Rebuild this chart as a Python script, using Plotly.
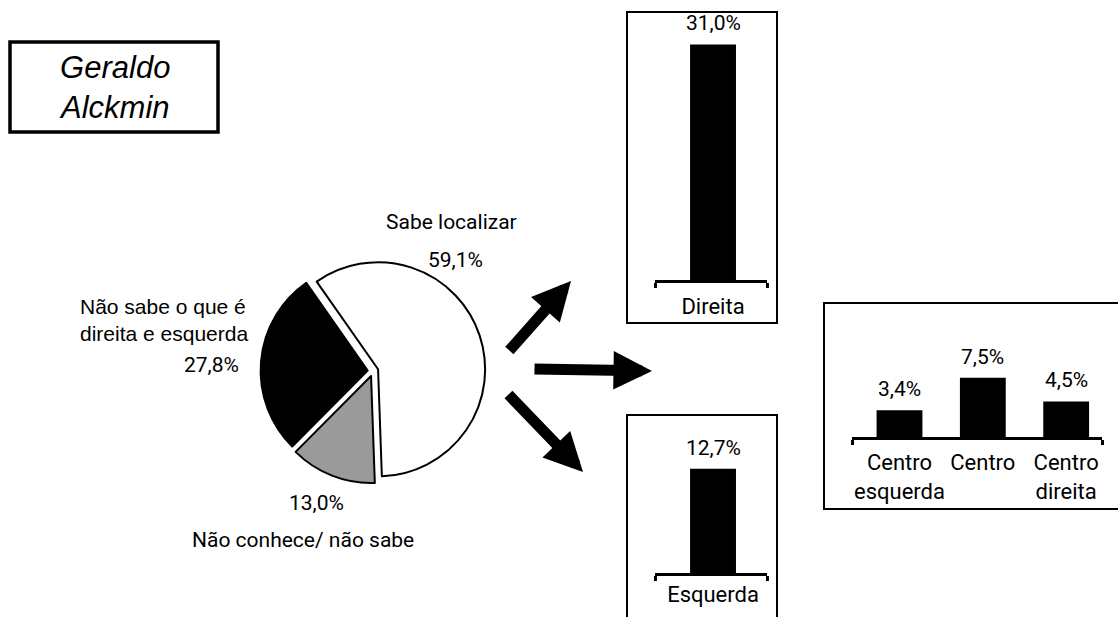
import plotly.graph_objects as go

W, H = 1118, 617

# ---- data ----
pie_labels = ["Sabe localizar", "Não conhece/ não sabe", "Não sabe o que é<br>direita e esquerda"]
pie_values = [59.1, 13.0, 27.8]

dir_cats = ["Direita"]
dir_vals = [31.0]
esq_cats = ["Esquerda"]
esq_vals = [12.7]
cen_cats = ["Centro<br>esquerda", "Centro", "Centro<br>direita"]
cen_vals = [3.4, 7.5, 4.5]

title_text = "Geraldo<br>Alckmin"


def px(x):
    return x / W


def py(y):
    return 1 - y / H


def pct(v):
    return f"{v:.1f}".replace(".", ",") + "%"


TXT = dict(family="Roboto", size=21, color="black")
ARIAL = dict(family="Liberation Sans", size=21, color="black")

fig = go.Figure()

# ---- pie ----
fig.add_trace(go.Pie(
    labels=pie_labels, values=pie_values, sort=False, direction="clockwise",
    rotation=-35, pull=[0.05, 0.05, 0.05],
    marker=dict(colors=["white", "#9a9a9a", "black"], line=dict(color="black", width=2)),
    textinfo="none", hoverinfo="label+percent", showlegend=False,
    domain=dict(x=[px(260.6), px(485.4)], y=[py(483.4), py(258.6)]),
))

# ---- bars ----
groups = [
    (dir_cats, dir_vals, "x", "y", [655, 767], [14, 280], [-0.518, 0.482], [0, 35], 0.41, 5),
    (esq_cats, esq_vals, "x2", "y2", [655, 767], [450, 573], [-0.518, 0.482], [0, 15], 0.41, 0),
    (cen_cats, cen_vals, "x3", "y3", [852, 1102], [366, 437], [-0.57, 2.43], [0, 9], 0.55, 4),
]

layout_axes = {}
annotations = []
for i, (cats, vals, xa, ya, xdom, ydom, xr, yr, bw, stand) in enumerate(groups):
    idx = list(range(len(cats)))
    fig.add_trace(go.Bar(x=idx, y=vals, xaxis=xa, yaxis=ya, width=bw,
                         marker=dict(color="black", line=dict(width=0)),
                         showlegend=False, hoverinfo="y"))
    xkey = "xaxis" if i == 0 else f"xaxis{i+1}"
    ykey = "yaxis" if i == 0 else f"yaxis{i+1}"
    layout_axes[xkey] = dict(
        domain=[px(xdom[0]), px(xdom[1])], range=xr, anchor=ya,
        showline=True, linecolor="black", linewidth=3, showgrid=False, zeroline=False,
        tickmode="array", tickvals=idx, ticktext=cats, ticks="",
        ticklabelstandoff=stand,
        tickfont=dict(family="Roboto", size=22, color="black"),
        minor=dict(tickmode="array", tickvals=xr, ticks="outside", ticklen=5,
                   tickwidth=3, tickcolor="black", showgrid=False),
        fixedrange=True,
    )
    layout_axes[ykey] = dict(
        domain=[py(ydom[1]), py(ydom[0])], range=yr, anchor=xa, visible=False,
        fixedrange=True,
    )
    for j, v in zip(idx, vals):
        annotations.append(dict(
            x=j, y=v, xref=xa, yref=ya, text=pct(v), showarrow=False,
            xanchor="center", yanchor="bottom", yshift=7, font=TXT,
        ))


def lab(x, y, text, font=TXT, xanchor="center", align="center"):
    return dict(x=px(x), y=py(y), xref="paper", yref="paper", text=text,
                showarrow=False, font=font, xanchor=xanchor, yanchor="middle",
                align=align)


# ---- pie labels ----
annotations += [
    lab(451, 222, pie_labels[0]),
    lab(455, 260, pct(pie_values[0])),
    lab(78, 320, pie_labels[2], font=ARIAL, xanchor="left", align="left"),
    lab(241, 365, pct(pie_values[2]), xanchor="right"),
    lab(316, 503, pct(pie_values[1])),
    lab(303, 540, pie_labels[1]),
    lab(114, 87, title_text, font=dict(family="Liberation Sans", size=31,
                                       color="black", style="italic")),
]

# ---- arrows ----
arrows = [((508, 352), (571, 281)), ((533, 369), (652, 371)), ((507, 393), (583, 472))]
for (tx, ty), (hx, hy) in arrows:
    annotations.append(dict(
        x=px(hx), y=py(hy), xref="paper", yref="paper", ax=tx - hx, ay=ty - hy,
        text="", showarrow=True, arrowhead=2, arrowsize=0.7, arrowwidth=11,
        arrowcolor="black", standoff=0, startstandoff=0,
    ))

# ---- boxes ----
shapes = []
for (x0, y0, x1, y1, lw) in [(10, 42, 218, 132, 3.5), (627, 12, 777, 323, 2),
                             (627, 415, 777, 640, 2), (824, 303, 1125, 509, 2)]:
    shapes.append(dict(type="rect", xref="paper", yref="paper",
                       x0=px(x0), x1=px(x1), y0=py(y1), y1=py(y0),
                       line=dict(color="black", width=lw), fillcolor="rgba(0,0,0,0)",
                       layer="below"))

fig.update_layout(
    width=W, height=H, autosize=False,
    margin=dict(l=0, r=0, t=0, b=0),
    paper_bgcolor="white", plot_bgcolor="white",
    annotations=annotations, shapes=shapes,
    **layout_axes,
)

fig.write_html("out.html", config={"displayModeBar": False},
               post_script="document.body.style.margin='0';document.body.style.overflow='hidden';")
